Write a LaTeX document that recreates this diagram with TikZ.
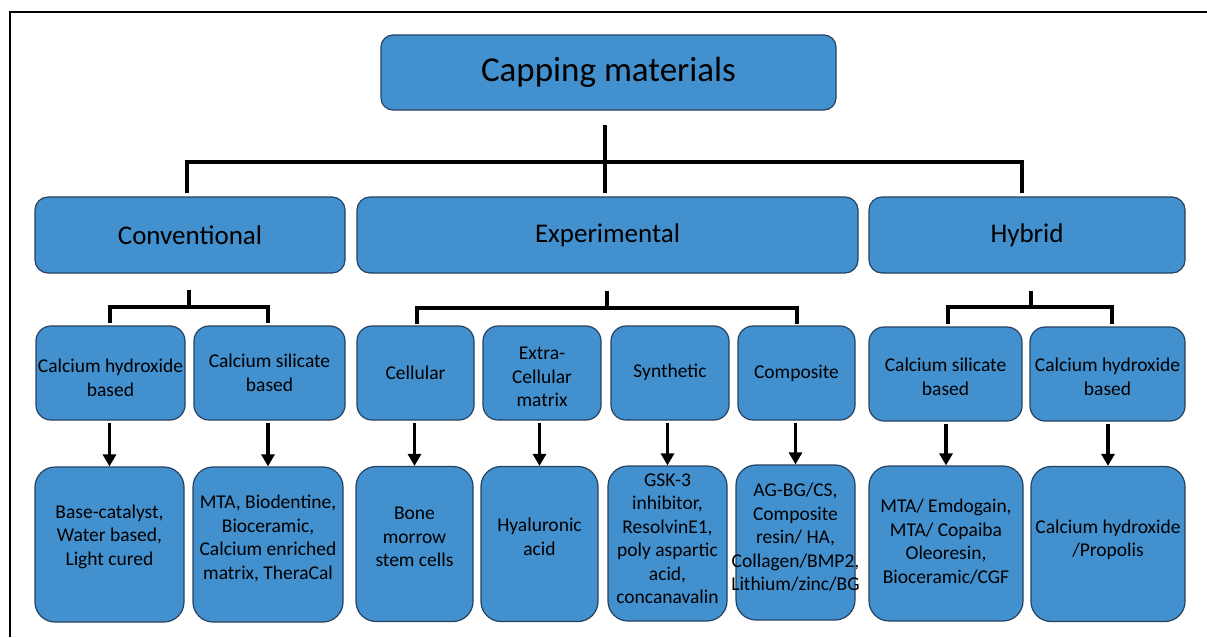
\documentclass[tikz,border=0pt]{standalone}
\usepackage{fontspec}
\setmainfont{Carlito}
\usetikzlibrary{arrows.meta}
\definecolor{boxfill}{RGB}{66,144,206}
\definecolor{boxline}{RGB}{38,66,96}
\tikzset{
  box/.style={draw=boxline, fill=boxfill, line width=1.2pt, align=center, inner sep=1pt, text=black},
  rootbox/.style={box, rounded corners=12pt, font=\fontsize{35}{40}\selectfont},
  topbox/.style={box, rounded corners=13pt, font=\fontsize{27}{32}\selectfont, minimum height=76pt},
  midbox/.style={box, rounded corners=15pt, minimum height=94pt},
  leafbox/.style={box, rounded corners=20pt, minimum height=155pt},
  boxtext/.style={align=center, inner sep=0pt, font=\fontsize{19.5}{23.5}\selectfont},
  tree/.style={line width=3.5pt, line cap=butt},
  arr/.style={line width=3.5pt, -{Triangle[width=13pt,length=12pt]}}
}
\begin{document}
\begin{tikzpicture}[x=1pt,y=-1pt]
\useasboundingbox (0,0) rectangle (1207,637);
\fill[white] (0,0) rectangle (1207,637);
\draw[line width=1.5pt] (10,637) -- (10,12) -- (1207,12);

% root
\node[rootbox, minimum width=455pt, minimum height=75pt] (root) at (608.5,72.5) {Capping materials};

% level 1
\node[topbox, minimum width=310pt] (conv) at (190,235) {Conventional};
\node[topbox, minimum width=501pt] (exp) at (607.5,235) {Experimental};
\node[topbox, minimum width=316pt] (hyb) at (1027,235) {Hybrid};

\coordinate (r0) at (605,125);
\coordinate (r1) at (605,162);
\draw[tree] (r0) -- (r1);
\draw[tree] (187,193) |- (1022,162) -- (1022,193);
\draw[tree] (605,162) -- (605,193);

% level 2 boxes
\node[midbox, minimum width=149pt] (cha) at (110.5,373) {};
\node[midbox, minimum width=151pt] (csa) at (269.5,373) {};
\node[midbox, minimum width=117pt] (cel) at (415.5,373) {};
\node[midbox, minimum width=118pt] (ecm) at (542,373) {};
\node[midbox, minimum width=118pt] (syn) at (670,373) {};
\node[midbox, minimum width=117pt] (com) at (796.5,373) {};
\node[midbox, minimum width=153pt] (hcs) at (945.5,374) {};
\node[midbox, minimum width=155pt] (hch) at (1107.5,374) {};

% level 2 texts
\node[boxtext] (chat) at ([yshift=-5pt]cha.center) {Calcium hydroxide\\based};
\node[boxtext] (csat) at (csa.center) {Calcium silicate\\based};
\node[boxtext] (celt) at (cel.center) {Cellular};
\node[boxtext] (ecmt) at ([yshift=-4pt]ecm.center) {Extra-\\Cellular\\matrix};
\node[boxtext] (synt) at ([yshift=1pt]syn.center) {Synthetic};
\node[boxtext] (comt) at (com.center) {Composite};
\node[boxtext] (hcst) at ([yshift=-3pt]hcs.center) {Calcium silicate\\based};
\node[boxtext] (hcht) at ([yshift=-3pt]hch.center) {Calcium hydroxide\\based};

% level 2 connectors
\coordinate (c0) at (189,290);
\coordinate (c1) at (189,307);
\draw[tree] (c0) -- (c1);
\draw[tree] (110,323) |- (268,307) -- (268,323);
\coordinate (e0) at (607,291);
\coordinate (e1) at (607,308);
\draw[tree] (e0) -- (e1);
\draw[tree] (417,324) |- (797,308) -- (797,324);
\coordinate (h0) at (1031,291);
\coordinate (h1) at (1031,307);
\draw[tree] (h0) -- (h1);
\draw[tree] (948,324) |- (1112,307) -- (1112,324);

% level 3 boxes
\node[leafbox, minimum width=149pt] (l1) at (109.5,544.5) {};
\node[leafbox, minimum width=150pt] (l2) at (268,544.5) {};
\node[leafbox, minimum width=117pt] (l3) at (414.5,544) {};
\node[leafbox, minimum width=117pt] (l4) at (539.5,544) {};
\node[leafbox, minimum width=119pt] (l5) at (667.5,543.5) {};
\node[leafbox, minimum width=119pt] (l6) at (795.5,542.5) {};
\node[leafbox, minimum width=154pt] (l7) at (946,543.5) {};
\node[leafbox, minimum width=154pt] (l8) at (1108,544) {};

% level 3 texts
\node[boxtext] (t1) at ([yshift=8pt]l1.center) {Base-catalyst,\\Water based,\\Light cured};
\node[boxtext] (t2) at ([yshift=6pt]l2.center) {MTA, Biodentine,\\Bioceramic,\\Calcium enriched\\matrix, TheraCal};
\node[boxtext] (t3) at ([yshift=7pt]l3.center) {Bone\\morrow\\stem cells};
\node[boxtext] (t4) at ([yshift=7pt]l4.center) {Hyaluronic\\acid};
\node[boxtext] (t5) at ([yshift=5pt]l5.center) {GSK-3\\inhibitor,\\ResolvinE1,\\poly aspartic\\acid,\\concanavalin};
\node[boxtext] (t6) at ([yshift=5pt]l6.center) {AG-BG/CS,\\Composite\\resin/ HA,\\Collagen/BMP2,\\Lithium/zinc/BG};
\node[boxtext] (t7) at ([yshift=2pt]l7.center) {MTA/ Emdogain,\\MTA/ Copaiba\\Oleoresin,\\Bioceramic/CGF};
\node[boxtext] (t8) at ([yshift=4pt]l8.center) {Calcium hydroxide\\/Propolis};

% arrows
\draw[arr] ([yshift=-2pt]cha.south -| l1.north) -- (l1.north);
\draw[arr] ([yshift=-2pt]csa.south -| l2.north) -- (l2.north);
\draw[arr] ([yshift=-2pt]cel.south -| l3.north) -- (l3.north);
\draw[arr] ([yshift=-2pt]ecm.south -| l4.north) -- (l4.north);
\draw[arr] ([yshift=-2pt]syn.south -| l5.north) -- (l5.north);
\draw[arr] ([yshift=-2pt]com.south -| l6.north) -- (l6.north);
\draw[arr] ([yshift=-2pt]hcs.south -| l7.north) -- (l7.north);
\draw[arr] ([yshift=-2pt]hch.south -| l8.north) -- (l8.north);
\end{tikzpicture}
\end{document}
